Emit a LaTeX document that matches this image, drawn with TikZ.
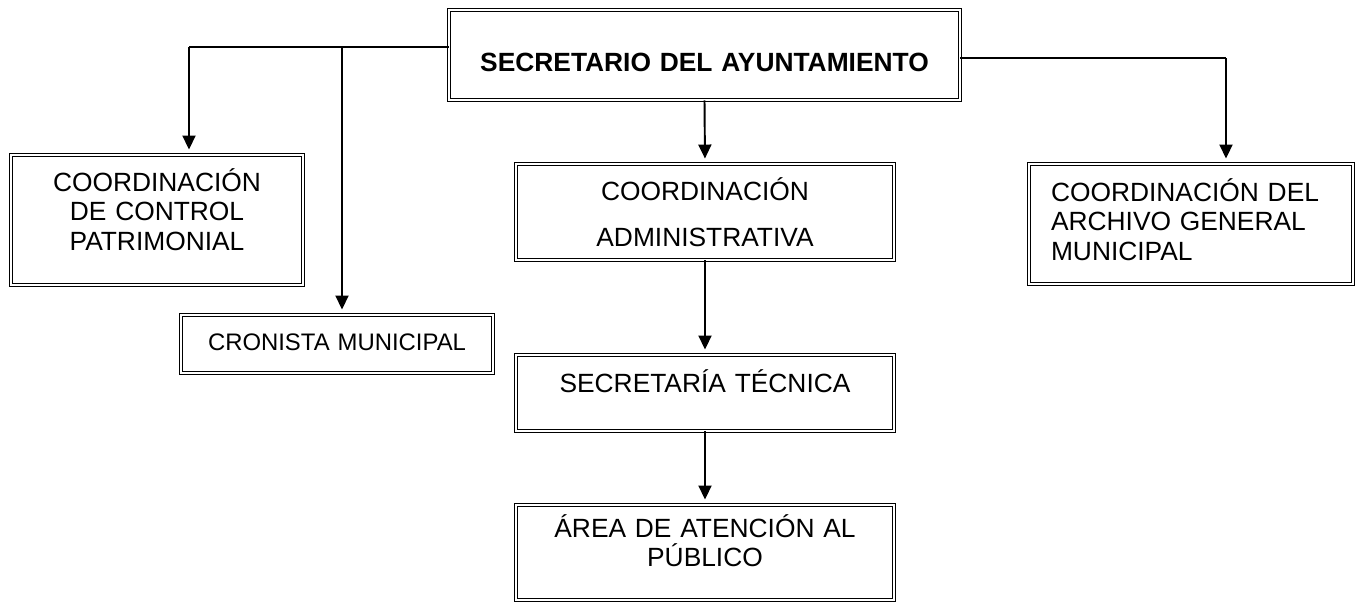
\documentclass[tikz,border=0pt]{standalone}
\usepackage{fontspec}
\setmainfont{Liberation Sans}
\usetikzlibrary{arrows.meta}

\begin{document}
\begin{tikzpicture}[x=0.02cm, y=-0.02cm,
  caja/.style={draw, double, line width=0.55pt, double distance=1.3pt, inner sep=0pt, align=center, font=\fontsize{15pt}{17pt}\selectfont},
  flecha/.style={-{Triangle[width=0.26cm,length=0.28cm]}, line width=1.1pt, shorten >=0.1cm},
  linea/.style={line width=0.6pt}]
  \useasboundingbox (0,0) rectangle (1356,603);

  \node[caja, text width=10.22cm, text height=1.22cm, text depth=0.58cm, font=\fontsize{15pt}{17pt}\selectfont\bfseries](secretario) at (704.5,55){SECRETARIO DEL AYUNTAMIENTO};
  \node[caja, text width=5.84cm, text height=0.72cm, text depth=1.88cm](patrimonial) at (157,220){COORDINACIÓN\\DE CONTROL\\PATRIMONIAL};
  \node[caja, text width=6.24cm, text height=0.70cm, text depth=0.46cm, font=\fontsize{13.6pt}{16pt}\selectfont](cronista) at (337,344){CRONISTA MUNICIPAL};
  \node[caja, text width=7.56cm, text height=0.72cm, text depth=1.20cm](administrativa) at (705,212){COORDINACIÓN\\[0.34cm]ADMINISTRATIVA};
  \node[caja, text width=7.56cm, text height=0.74cm, text depth=0.78cm](tecnica) at (705,393){SECRETARÍA TÉCNICA};
  \node[caja, text width=7.56cm, text height=0.64cm, text depth=1.26cm](atencion) at (705,552.5){ÁREA DE ATENCIÓN AL\\PÚBLICO};
  \node[caja, align=left, text width=5.6cm, inner xsep=0.44cm, text height=0.74cm, text depth=1.66cm](archivo) at (1191,224){COORDINACIÓN DEL\\ARCHIVO GENERAL\\MUNICIPAL};

  % ramas del secretario
  \coordinate (izq) at (189,47);
  \coordinate (cen) at (342,47);
  \coordinate (der) at (1226,58);
  \draw[linea] (secretario.west |- izq) -- (izq);
  \draw[flecha] (izq) -- (izq |- patrimonial.north);
  \draw[flecha] (cen) -- (cen |- cronista.north);
  \draw[linea] (secretario.east |- der) -- (der);
  \draw[flecha] (der) -- (der |- archivo.north);

  \draw[flecha] (secretario.south) -- (administrativa.north);
  \draw[flecha] (administrativa.south) -- (tecnica.north);
  \draw[flecha] (tecnica.south) -- (atencion.north);
\end{tikzpicture}
\end{document}
